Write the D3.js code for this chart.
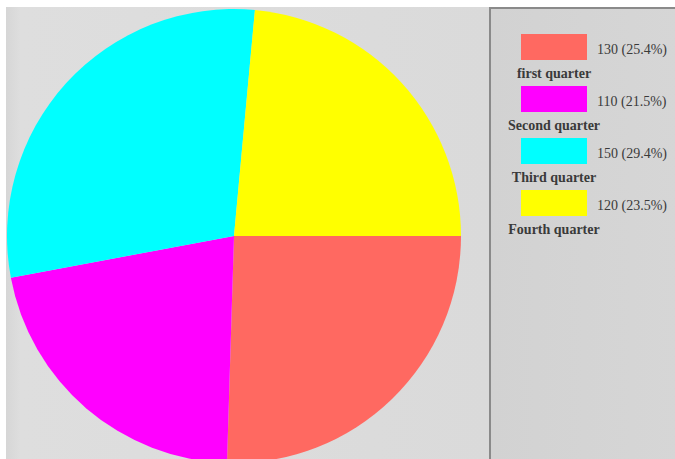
<!DOCTYPE html>
<html>
<head>
<meta charset="utf-8">
<script src="https://cdn.jsdelivr.net/npm/d3@7"></script>
<style>
  body { margin: 0; background: #fff; }
</style>
</head>
<body>
<div id="chart"></div>
<script>
// data
const categories = ["first quarter", "Second quarter", "Third quarter", "Fourth quarter"]
const values = [130, 110, 150, 120]
const colors = ["#ff6961", "#ff00ff", "#00ffff", "#ffff00"]

const width = 675
const height = 459

const svg = d3.select("#chart")
    .append("svg")
    .attr("width", width)
    .attr("height", height)

// soft gray backgrounds with faint vertical banding
const defs = svg.append("defs")
const plotGrad = defs.append("linearGradient").attr("id", "plotBg")
plotGrad.append("stop").attr("offset", "0%").attr("stop-color", "#d6d6d6")
plotGrad.append("stop").attr("offset", "3%").attr("stop-color", "#dedede")
plotGrad.append("stop").attr("offset", "100%").attr("stop-color", "#dadada")
const legGrad = defs.append("linearGradient").attr("id", "legBg")
legGrad.append("stop").attr("offset", "0%").attr("stop-color", "#d2d2d2")
legGrad.append("stop").attr("offset", "100%").attr("stop-color", "#d6d6d6")

svg.append("rect")
    .attr("x", 6).attr("y", 7)
    .attr("width", 484).attr("height", height - 7)
    .attr("fill", "url(#plotBg)")

svg.append("rect")
    .attr("x", 490).attr("y", 8)
    .attr("width", width - 490 + 4).attr("height", height - 8 + 4)
    .attr("fill", "url(#legBg)")
    .attr("stroke", "#8a8a8a")
    .attr("stroke-width", 2)

// pie, starting at 3 o'clock and running clockwise
const cx = 234, cy = 236, radius = 227
const pie = d3.pie()
    .sort(null)
    .startAngle(Math.PI / 2)
    .endAngle(Math.PI / 2 + 2 * Math.PI)
const arc = d3.arc().innerRadius(0).outerRadius(radius)

const g = svg.append("g").attr("transform", `translate(${cx},${cy})`)
g.selectAll("path")
    .data(pie(values))
    .join("path")
    .attr("d", arc)
    .attr("fill", (d, i) => colors[i])

// legend
const total = d3.sum(values)
const pct = d => (Math.floor(d / total * 1000) / 10).toFixed(1)
const step = 52
const legend = svg.append("g")
    .attr("transform", "translate(521,34)")
    .style("font-family", "'Liberation Serif', 'DejaVu Serif', serif")
    .style("font-size", "14px")

const items = legend.selectAll("g")
    .data(values)
    .join("g")
    .attr("transform", (d, i) => `translate(0,${i * step})`)

items.append("rect")
    .attr("width", 66)
    .attr("height", 26)
    .attr("fill", (d, i) => colors[i])

items.append("text")
    .attr("x", 76)
    .attr("y", 20)
    .attr("fill", "#3a3a3a")
    .text(d => `${d} (${pct(d)}%)`)

items.append("text")
    .attr("x", 33)
    .attr("y", 44)
    .attr("text-anchor", "middle")
    .attr("fill", "#3a3a3a")
    .style("font-weight", "bold")
    .text((d, i) => categories[i])
</script>
</body>
</html>
